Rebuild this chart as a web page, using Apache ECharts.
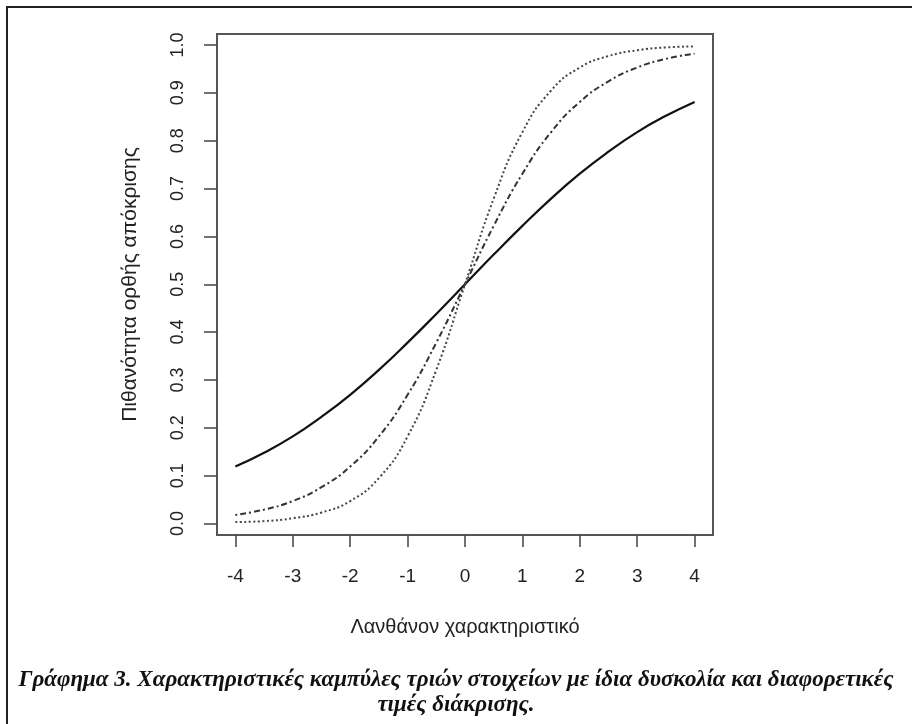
<!DOCTYPE html>
<html>
<head>
<meta charset="utf-8">
<title></title>
<style type="text/css">
  html, body { margin: 0; padding: 0; background: #fff; }
  #main { width: 912px; height: 724px; }
</style>
</head>
<body>
<div id="main"></div>
<script src="https://cdn.jsdelivr.net/npm/echarts@6/dist/echarts.min.js"></script>
<script type="text/javascript">
// θ values (x) and the three curves
var thetaVals = [-4, -3.5, -3, -2.5, -2, -1.5, -1, -0.5, 0, 0.5, 1, 1.5, 2, 2.5, 3, 3.5, 4];
var solidVals   = [0.119, 0.148, 0.182, 0.223, 0.269, 0.321, 0.378, 0.438, 0.5, 0.562, 0.622, 0.679, 0.731, 0.777, 0.818, 0.852, 0.881];
var dashDotVals = [0.018, 0.029, 0.047, 0.076, 0.119, 0.182, 0.269, 0.378, 0.5, 0.622, 0.731, 0.818, 0.881, 0.924, 0.953, 0.971, 0.982];
var dottedVals  = [0.003, 0.005, 0.011, 0.023, 0.047, 0.095, 0.182, 0.321, 0.5, 0.679, 0.818, 0.905, 0.953, 0.977, 0.989, 0.995, 0.997];
var xTicks = [-4, -3, -2, -1, 0, 1, 2, 3, 4];
var yTicks = [0, 0.1, 0.2, 0.3, 0.4, 0.5, 0.6, 0.7, 0.8, 0.9, 1.0];

function pairs(ys) {
  var out = [];
  for (var i = 0; i < thetaVals.length; i++) {
    out.push([thetaVals[i], ys[i]]);
  }
  return out;
}

var chartDom = document.getElementById('main');
var myChart = echarts.init(chartDom);
var axisFont = 'Liberation Sans';

var option = {
  animation: false,
  title: {
    text: 'Γράφημα 3. Χαρακτηριστικές καμπύλες τριών στοιχείων με ίδια δυσκολία και διαφορετικές\nτιμές διάκρισης.',
    left: 'center',
    top: 663,
    textStyle: {
      fontFamily: 'Liberation Serif',
      fontStyle: 'italic',
      fontWeight: 'bold',
      fontSize: 23,
      lineHeight: 25,
      color: '#111'
    }
  },
  graphic: [
    { type: 'line', shape: { x1: 7, y1: 7, x2: 912, y2: 7 }, style: { stroke: '#222', lineWidth: 2 } },
    { type: 'line', shape: { x1: 7, y1: 6, x2: 7, y2: 724 }, style: { stroke: '#222', lineWidth: 2 } }
  ],
  grid: {
    left: 217, top: 34, right: 199, bottom: 189,
    show: true, borderColor: '#555', borderWidth: 2
  },
  xAxis: {
    type: 'value',
    min: -4.32, max: 4.32,
    name: 'Λανθάνον χαρακτηριστικό',
    nameLocation: 'middle',
    nameGap: 82,
    nameTextStyle: { fontFamily: axisFont, fontSize: 20, color: '#222' },
    axisLine: { show: false, onZero: false },
    axisTick: { show: true, length: 12, customValues: xTicks, lineStyle: { color: '#444', width: 1.5 } },
    axisLabel: {
      customValues: xTicks, margin: 32,
      fontFamily: axisFont, fontSize: 19, color: '#222'
    },
    splitLine: { show: false }
  },
  yAxis: {
    type: 'value',
    min: -0.024, max: 1.023,
    name: 'Πιθανότητα ορθής απόκρισης',
    nameLocation: 'middle',
    nameGap: 76,
    nameTextStyle: { fontFamily: axisFont, fontSize: 21, color: '#222' },
    axisLine: { show: false, onZero: false },
    axisTick: { show: true, length: 13, customValues: yTicks, lineStyle: { color: '#444', width: 1.5 } },
    axisLabel: {
      customValues: yTicks, margin: 30, rotate: 90,
      fontFamily: axisFont, fontSize: 18, color: '#222',
      formatter: function (v) { return v.toFixed(1); }
    },
    splitLine: { show: false }
  },
  series: [
    {
      type: 'line', data: pairs(solidVals), smooth: true, symbol: 'none',
      lineStyle: { color: '#111', width: 2.2, type: 'solid' }
    },
    {
      type: 'line', data: pairs(dashDotVals), smooth: true, symbol: 'none',
      lineStyle: { color: '#333', width: 2, type: [2, 3, 6, 3] }
    },
    {
      type: 'line', data: pairs(dottedVals), smooth: true, symbol: 'none',
      lineStyle: { color: '#444', width: 2, type: [2, 2.5] }
    }
  ]
};

option && myChart.setOption(option);
</script>
</body>
</html>
